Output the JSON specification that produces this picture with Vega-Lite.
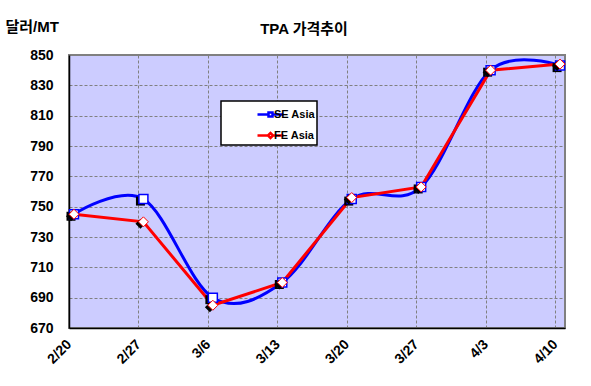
{
  "$schema": "https://vega.github.io/schema/vega-lite/v6.json",
  "width": 496,
  "height": 273,
  "autosize": "none",
  "padding": {"left": 69, "top": 55, "right": 26, "bottom": 58},
  "background": "white",
  "title": {
    "text": "TPA 가격추이",
    "font": "Liberation Sans, Noto Sans CJK KR",
    "fontSize": 15,
    "fontWeight": "bold",
    "color": "black",
    "anchor": "middle",
    "frame": "group",
    "dx": -13,
    "offset": -18
  },
  "config": {
    "view": {"fill": "#CCCCFF", "stroke": "#808080", "strokeWidth": 2},
    "font": "Liberation Sans, Noto Sans CJK KR"
  },
  "data": {
    "values": [
      {"date": "2009-02-20", "series": "SE Asia", "price": 745},
      {"date": "2009-02-27", "series": "SE Asia", "price": 755},
      {"date": "2009-03-06", "series": "SE Asia", "price": 690},
      {"date": "2009-03-13", "series": "SE Asia", "price": 700},
      {"date": "2009-03-20", "series": "SE Asia", "price": 755},
      {"date": "2009-03-27", "series": "SE Asia", "price": 763},
      {"date": "2009-04-03", "series": "SE Asia", "price": 840},
      {"date": "2009-04-10", "series": "SE Asia", "price": 843},
      {"date": "2009-02-20", "series": "FE Asia", "price": 745},
      {"date": "2009-02-27", "series": "FE Asia", "price": 740},
      {"date": "2009-03-06", "series": "FE Asia", "price": 685},
      {"date": "2009-03-13", "series": "FE Asia", "price": 700},
      {"date": "2009-03-20", "series": "FE Asia", "price": 756},
      {"date": "2009-03-27", "series": "FE Asia", "price": 763},
      {"date": "2009-04-03", "series": "FE Asia", "price": 840},
      {"date": "2009-04-10", "series": "FE Asia", "price": 844}
    ]
  },
  "encoding": {
    "x": {
      "field": "date",
      "type": "temporal",
      "timeUnit": "utcyearmonthdate",
      "bandPosition": 0.5,
      "scale": {
        "type": "utc",
        "domain": [
          {"year": 2009, "month": 2, "date": 20, "utc": true},
          {"year": 2009, "month": 4, "date": 11, "utc": true}
        ]
      },
      "axis": {
        "title": null,
        "values": [
          {"year": 2009, "month": 2, "date": 20, "utc": true},
          {"year": 2009, "month": 2, "date": 27, "utc": true},
          {"year": 2009, "month": 3, "date": 6, "utc": true},
          {"year": 2009, "month": 3, "date": 13, "utc": true},
          {"year": 2009, "month": 3, "date": 20, "utc": true},
          {"year": 2009, "month": 3, "date": 27, "utc": true},
          {"year": 2009, "month": 4, "date": 3, "utc": true},
          {"year": 2009, "month": 4, "date": 10, "utc": true}
        ],
        "labelExpr": "utcFormat(datum.value, '%-m/%-d')",
        "labelAngle": -45,
        "labelAlign": "right",
        "labelBaseline": "middle",
        "labelPadding": 14,
        "labelFont": "Liberation Sans",
        "labelFontSize": 14,
        "labelFontWeight": "bold",
        "labelColor": "black",
        "ticks": false,
        "domainColor": "black",
        "domainWidth": 1.5,
        "grid": true,
        "gridColor": "#808080",
        "gridDash": [3, 2],
        "gridWidth": 1,
        "gridOpacity": 1
      }
    },
    "y": {
      "field": "price",
      "type": "quantitative",
      "scale": {"domain": [670, 850], "nice": false, "zero": false},
      "axis": {
        "values": [670, 690, 710, 730, 750, 770, 790, 810, 830, 850],
        "title": "달러/MT",
        "titleAngle": 0,
        "titleAlign": "left",
        "titleBaseline": "middle",
        "titleX": -64,
        "titleY": -29,
        "titleFont": "Liberation Sans, Noto Sans CJK KR",
        "titleFontSize": 15,
        "titleFontWeight": "bold",
        "titleColor": "black",
        "labelFont": "Liberation Sans",
        "labelFontSize": 14,
        "labelFontWeight": "bold",
        "labelColor": "black",
        "labelPadding": 16,
        "ticks": false,
        "domainColor": "black",
        "domainWidth": 1.5,
        "grid": true,
        "gridColor": "#808080",
        "gridDash": [3, 2],
        "gridWidth": 1,
        "gridOpacity": 1
      }
    }
  },
  "layer": [
    {
      "transform": [{"filter": "datum.series === 'SE Asia'"}],
      "mark": {"type": "line", "interpolate": "cardinal", "strokeWidth": 3},
      "encoding": {
        "color": {
          "field": "series",
          "type": "nominal",
          "scale": {"domain": ["SE Asia", "FE Asia"], "range": ["#0000FF", "#FF0000"]},
          "legend": {
            "title": null,
            "orient": "none",
            "legendX": 152,
            "legendY": 46,
            "fillColor": "white",
            "strokeColor": "black",
            "padding": 2,
            "rowPadding": 2,
            "symbolSize": 400,
            "symbolOffset": 18,
            "labelOffset": 10,
            "symbolStrokeWidth": 2.5,
            "symbolFillColor": "white",
            "labelFont": "Liberation Sans",
            "labelFontSize": 11,
            "labelFontWeight": "bold",
            "labelColor": "black",
            "encode": {
              "symbols": {
                "update": {
                  "shape": {"signal": "datum.value === 'SE Asia' ? 'M0.5,0H1.6M2.0,0H3.1M1.6,-0.2H2.0V0.2H1.6Z' : 'M0.5,0H1.55M2.05,0H3.1M1.55,0L1.8,-0.25L2.05,0L1.8,0.25Z'"},
                  "fill": {"value": "white"}
                }
              },
              "legend": {
                "update": {"strokeWidth": {"value": 1.5}}
              }
            }
          }
        }
      }
    },
    {
      "transform": [{"filter": "datum.series === 'FE Asia'"}],
      "mark": {"type": "line", "interpolate": "linear", "strokeWidth": 3},
      "encoding": {
        "color": {"field": "series", "type": "nominal"}
      }
    },
    {
      "transform": [{"filter": "datum.series === 'SE Asia'"}],
      "mark": {"type": "point", "shape": "square", "size": 81, "filled": true, "color": "black", "opacity": 1},
      "encoding": {"xOffset": {"value": 2}, "yOffset": {"value": 2}}
    },
    {
      "transform": [{"filter": "datum.series === 'SE Asia'"}],
      "mark": {"type": "point", "shape": "square", "size": 81, "filled": true, "fill": "white", "stroke": "#0000FF", "strokeWidth": 1.5, "opacity": 1}
    },
    {
      "transform": [{"filter": "datum.series === 'FE Asia'"}],
      "mark": {"type": "point", "shape": "diamond", "size": 100, "filled": true, "color": "black", "opacity": 1},
      "encoding": {"xOffset": {"value": 2}, "yOffset": {"value": 2}}
    },
    {
      "transform": [{"filter": "datum.series === 'FE Asia'"}],
      "mark": {"type": "point", "shape": "diamond", "size": 100, "filled": true, "fill": "white", "stroke": "#FF0000", "strokeWidth": 1, "opacity": 1}
    }
  ]
}
